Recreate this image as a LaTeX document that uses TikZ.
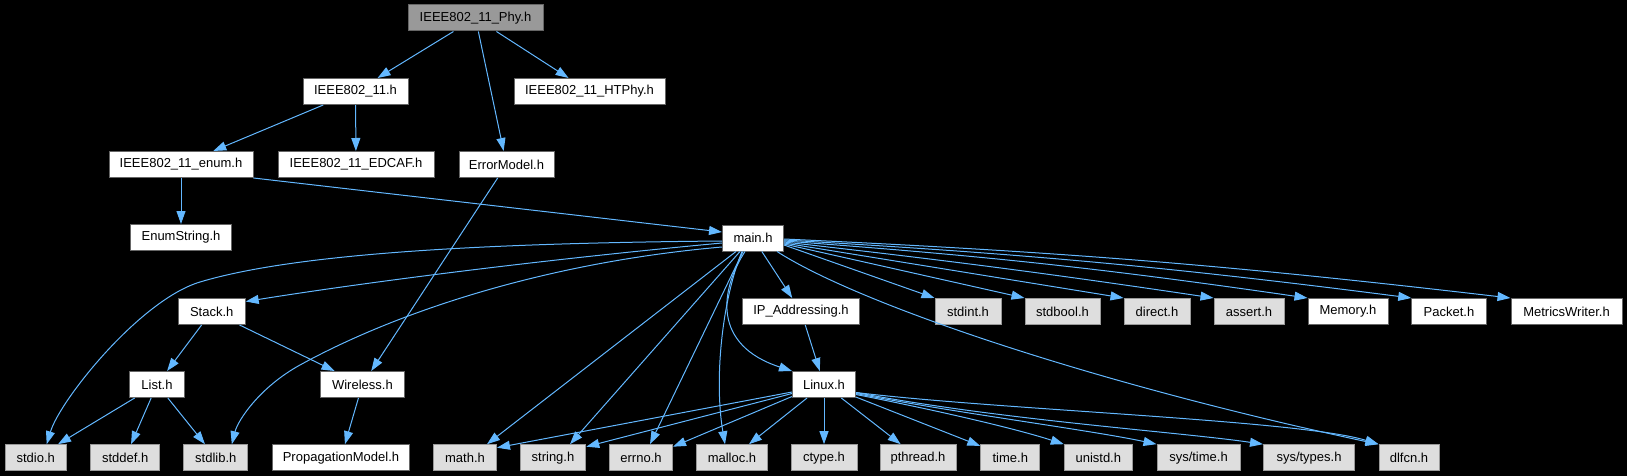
\documentclass[tikz,border=0pt]{standalone}
\usepackage{fontspec}
\setmainfont{Liberation Sans}
\usetikzlibrary{arrows.meta}
\definecolor{edgec}{HTML}{63B8FF}
\definecolor{greyforty}{HTML}{666666}
\definecolor{greysixty}{HTML}{999999}
\definecolor{greyeightyseven}{HTML}{DEDEDE}
\begin{document}
\begin{tikzpicture}[x=1pt,y=-1pt,
  box/.style={draw=greyforty, fill=white, line width=1pt, minimum height=26pt, inner sep=0pt,
    font=\fontsize{13}{13}\selectfont, text=black},
  sysbox/.style={box, draw=greysixty, fill=greyeightyseven},
  rootbox/.style={box, draw=greyforty, fill=greysixty},
  edge/.style={draw=edgec, line width=1pt, -{Triangle[length=13pt,width=9pt]}}]
\fill[black] (0,0) rectangle (1627,476);
\useasboundingbox (0,0) rectangle (1627,476);
% row 1
\node[rootbox, minimum width=135pt] (phy) at (475.5,18) {IEEE802\_11\_Phy.h};
% row 2
\node[box, minimum width=105pt] (i11) at (355.5,91.5) {IEEE802\_11.h};
\node[box, minimum width=151pt] (htphy) at (589.5,91.5) {IEEE802\_11\_HTPhy.h};
% row 3
\node[box, minimum width=144pt] (enum) at (181,164.5) {IEEE802\_11\_enum.h};
\node[box, minimum width=156pt] (edcaf) at (356,164.5) {IEEE802\_11\_EDCAF.h};
\node[box, minimum width=95pt] (err) at (506.5,164.5) {ErrorModel.h};
% row 4
\node[box, minimum width=101pt] (enumstr) at (181,237.5) {EnumString.h};
\node[box, minimum width=61pt] (main) at (753,238) {main.h};
% row 5
\node[box, minimum width=67pt] (stack) at (211.7,311.5) {Stack.h};
\node[box, minimum width=117pt] (ipa) at (801,311.5) {IP\_Addressing.h};
\node[sysbox, minimum width=66pt] (stdint) at (968,311.5) {stdint.h};
\node[sysbox, minimum width=75pt] (stdbool) at (1062.5,311.5) {stdbool.h};
\node[sysbox, minimum width=66pt] (direct) at (1157,311.5) {direct.h};
\node[sysbox, minimum width=70pt] (assert) at (1249,311.5) {assert.h};
\node[box, minimum width=80pt] (memory) at (1348,311.5) {Memory.h};
\node[box, minimum width=74.5pt] (packet) at (1449,311.5) {Packet.h};
\node[box, minimum width=111pt] (metrics) at (1566.5,311.5) {MetricsWriter.h};
% row 6
\node[box, minimum width=55pt] (list) at (157,384.5) {List.h};
\node[box, minimum width=84pt] (wireless) at (362.4,384.5) {Wireless.h};
\node[box, minimum width=63pt] (linux) at (824,384.5) {Linux.h};
% row 7
\node[sysbox, minimum width=61pt] (stdio) at (35.7,457.7) {stdio.h};
\node[sysbox, minimum width=69pt] (stddef) at (125.2,457.7) {stddef.h};
\node[sysbox, minimum width=64pt] (stdlib) at (215.8,457.7) {stdlib.h};
\node[box, minimum width=137pt] (prop) at (341,457.7) {PropagationModel.h};
\node[sysbox, minimum width=63pt] (math) at (465,457.7) {math.h};
\node[sysbox, minimum width=65.5pt] (string) at (553,457.7) {string.h};
\node[sysbox, minimum width=63pt] (errno) at (641,457.7) {errno.h};
\node[sysbox, minimum width=70.5pt] (malloc) at (732,457.7) {malloc.h};
\node[sysbox, minimum width=66pt] (ctype) at (824,457.7) {ctype.h};
\node[sysbox, minimum width=76pt] (pthread) at (918,457.7) {pthread.h};
\node[sysbox, minimum width=59pt] (time) at (1010.3,457.7) {time.h};
\node[sysbox, minimum width=68pt] (unistd) at (1098.3,457.7) {unistd.h};
\node[sysbox, minimum width=83pt] (systime) at (1198.5,457.7) {sys/time.h};
\node[sysbox, minimum width=91pt] (systypes) at (1309,457.7) {sys/types.h};
\node[sysbox, minimum width=60pt] (dlfcn) at (1409,457.7) {dlfcn.h};

% edges from the root and upper rows
\draw[edge] (phy) -- (i11);
\draw[edge] (phy) -- (err);
\draw[edge] (phy) -- (htphy);
\draw[edge] (i11) -- (enum);
\draw[edge] (i11) -- (edcaf);
\draw[edge] (enum) -- (enumstr);
\draw[edge] (enum.south east) -- ([yshift=6pt]main.west);
\draw[edge] (err) -- (wireless);

% main.h to the left
\draw[edge] ([yshift=-3pt]main.west) .. controls (500,243) and (300,252) .. (200,282)
  .. controls (140,300) and (60,400) .. ([xshift=11pt]stdio.north);
\draw[edge] ([yshift=-5pt]main.west) .. controls (560,258) and (380,280) .. ([yshift=10pt]stack.east);
\draw[edge] ([yshift=-9pt]main.west) .. controls (550,262) and (400,310) .. (300,365)
  .. controls (260,387) and (238,420) .. ([xshift=16pt]stdlib.north);

% main.h downwards
\draw[edge] ([xshift=-17pt]main.south) -- ([xshift=22pt]math.north);
\draw[edge] ([xshift=-13pt]main.south) -- ([xshift=17pt]string.north);
\draw[edge] ([xshift=-10pt]main.south) -- ([xshift=9pt]errno.north);
\draw[edge] ([xshift=-11pt]main.south) .. controls (722,300) and (714,380) .. ([xshift=-7pt]malloc.north);
\draw[edge] ([xshift=-8pt]main.south) .. controls (720,290) and (712,345) .. (linux.north west);
\draw[edge] (main) -- (ipa);
\draw[edge] ([xshift=24pt]main.south) .. controls (860,305) and (1100,385) .. (dlfcn.north west);

% main.h to the right
\draw[edge] ([yshift=-7pt]main.east) -- (stdint.north west);
\draw[edge] ([yshift=-6pt]main.east) -- (stdbool.north west);
\draw[edge] ([yshift=-5pt]main.east) -- (direct.north west);
\draw[edge] ([yshift=-4pt]main.east) to[bend left=1] (assert.north west);
\draw[edge] ([yshift=-3pt]main.east) to[bend left=2] (memory.north west);
\draw[edge] ([yshift=-2pt]main.east) to[bend left=2] (packet.north west);
\draw[edge] ([yshift=-1pt]main.east) to[bend left=2] (metrics.north west);

% middle rows
\draw[edge] (stack) -- (list);
\draw[edge] (stack) -- (wireless);
\draw[edge] (list) -- (stdio);
\draw[edge] (list) -- (stddef);
\draw[edge] (list) -- (stdlib);
\draw[edge] (wireless) -- (prop);
\draw[edge] (ipa) -- (linux);

% Linux.h
\draw[edge] ([yshift=-7.5pt]linux.west) -- ([yshift=10pt]math.east);
\draw[edge] ([yshift=-9pt]linux.west) -- ([yshift=11pt]string.east);
\draw[edge] ([yshift=-12pt]linux.west) -- ([yshift=11pt]errno.east);
\draw[edge] (linux) -- (malloc);
\draw[edge] (linux) -- (ctype);
\draw[edge] (linux) -- (pthread);
\draw[edge] (linux) -- (time);
\draw[edge] ([yshift=-10pt]linux.east) .. controls (950,413) and (1020,430) .. (unistd.north west);
\draw[edge] ([yshift=-9pt]linux.east) .. controls (950,412) and (1090,430) .. (systime.north west);
\draw[edge] ([yshift=-8pt]linux.east) .. controls (1000,420) and (1180,432) .. (systypes.north west);
\draw[edge] ([yshift=-8pt]linux.east) .. controls (1000,410) and (1300,420) .. (dlfcn.north west);
\end{tikzpicture}
\end{document}
